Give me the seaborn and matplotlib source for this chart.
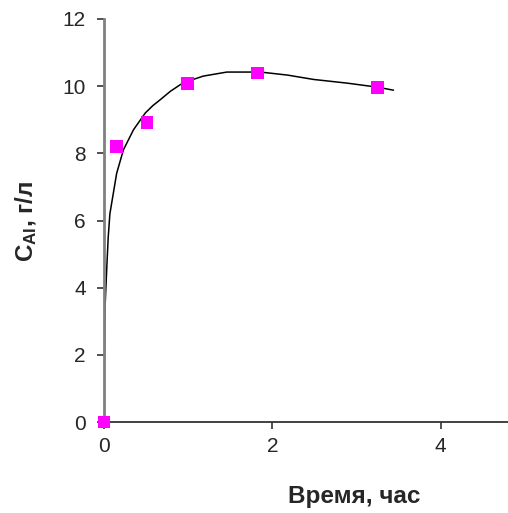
import matplotlib
matplotlib.use("Agg")
import matplotlib.pyplot as plt
import seaborn as sns
import pandas as pd

# measured points
time_h = [0.0, 0.15, 0.51, 0.99, 1.82, 3.25]
c_al = [0.0, 8.2, 8.93, 10.08, 10.39, 9.97]

# trend curve
curve_x = [0, 0.003, 0.012, 0.035, 0.05, 0.07, 0.11, 0.15, 0.23, 0.35, 0.49, 0.58, 0.67,
           0.79, 0.94, 1.18, 1.46, 1.86, 2.18, 2.49, 2.89, 3.25, 3.44]
curve_y = [0, 1.5, 3.4, 4.7, 5.5, 6.2, 6.8, 7.4, 8.1, 8.7, 9.2, 9.42, 9.6,
           9.85, 10.1, 10.3, 10.42, 10.42, 10.33, 10.2, 10.09, 9.97, 9.88]

x_ticks = [0, 2, 4]
y_ticks = [0, 2, 4, 6, 8, 10, 12]

sns.set_style("ticks")
plt.rcParams['font.family'] = ['Liberation Sans', 'DejaVu Sans']
plt.rcParams['mathtext.fontset'] = 'custom'
plt.rcParams['mathtext.rm'] = 'Liberation Sans:bold'
plt.rcParams['mathtext.it'] = 'Liberation Sans:bold'
plt.rcParams['mathtext.bf'] = 'Liberation Sans:bold'

fig = plt.figure(figsize=(5.08, 5.13), dpi=100)
ax = fig.add_axes([104/508, 1-422/513, 1-104/508, (422-19)/513])

df_pts = pd.DataFrame({"t": time_h, "c": c_al})
df_cur = pd.DataFrame({"t": curve_x, "c": curve_y})

sns.lineplot(data=df_cur, x="t", y="c", ax=ax, color="black", linewidth=1.1,
             sort=False, estimator=None, zorder=2)
sns.scatterplot(data=df_pts, x="t", y="c", ax=ax, marker="s", s=85,
                color="#ff00ff", edgecolor="none", zorder=3, clip_on=False)

ax.set_xlim(0, 4.8)
ax.set_ylim(0, 12)
ax.set_xticks(x_ticks)
ax.set_yticks(y_ticks)
ax.tick_params(axis='both', labelsize=15, length=5, width=1.2, color="#333333")
ax.tick_params(axis='x', pad=6)
ax.tick_params(axis='y', pad=8)

for s in ["top", "right"]:
    ax.spines[s].set_visible(False)
ax.spines["left"].set_color("#808080")
ax.spines["left"].set_linewidth(2.0)
ax.spines["bottom"].set_color("#333333")
ax.spines["bottom"].set_linewidth(1.3)

ax.set_xlabel("")
ax.set_ylabel("")
fig.text(354/508, 1-497/513, "Время, час", ha="center", va="center",
         fontsize=17.5, fontweight="bold")
fig.text(26/508, 1-221/513, r"C$_{\mathrm{Al}}$, г/л", ha="center", va="center",
         rotation=90, fontsize=17.5, fontweight="bold")

fig.savefig("out.png", dpi=100)
